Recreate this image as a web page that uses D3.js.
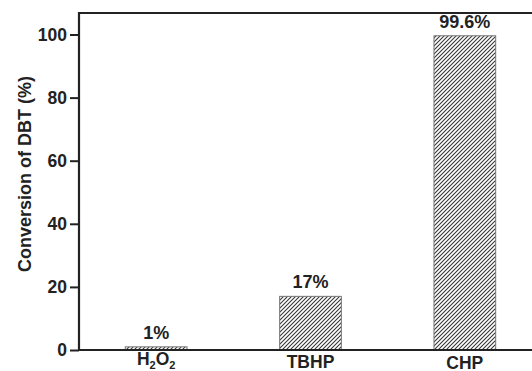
<!DOCTYPE html>
<html>
<head>
<meta charset="utf-8">
<script src="https://cdn.jsdelivr.net/npm/d3@7"></script>
<style>
  html, body { margin: 0; padding: 0; background: #fff; }
  svg { display: block; font-family: "Liberation Sans", Arial, sans-serif; }
</style>
</head>
<body>
<svg id="chart" width="532" height="371"></svg>
<script>
const categories = ["H2O2", "TBHP", "CHP"];
const conversion = [1, 17, 99.6];
const valueLabels = ["1%", "17%", "99.6%"];
const yTicks = [0, 20, 40, 60, 80, 100];
const yTitle = "Conversion of DBT (%)";

const svg = d3.select("#chart");
const margin = { left: 79, top: 13, bottom: 350, right: 542 };

const x = d3.scaleBand().domain(categories)
  .range([margin.left, margin.right]).paddingInner(0.6).paddingOuter(0.3);
const y = d3.scaleLinear().domain([0, 100]).range([350, 34.5]);

// hatch pattern
const defs = svg.append("defs");
const pat = defs.append("pattern").attr("id", "hatch")
  .attr("patternUnits", "userSpaceOnUse").attr("width", 4).attr("height", 4);
pat.append("rect").attr("width", 4).attr("height", 4).attr("fill", "#fff");
pat.append("path").attr("d", "M-1,1 L1,-1 M0,4 L4,0 M3,5 L5,3")
  .attr("stroke", "#333").attr("stroke-width", 1.05);

// bars
svg.selectAll("rect.bar").data(categories).enter().append("rect")
  .attr("class", "bar")
  .attr("x", d => x(d))
  .attr("y", (d, i) => y(conversion[i]))
  .attr("width", x.bandwidth())
  .attr("height", (d, i) => y(0) - y(conversion[i]))
  .attr("fill", "url(#hatch)")
  .attr("stroke", "#777").attr("stroke-width", 1);

// value labels
svg.selectAll("text.val").data(categories).enter().append("text")
  .attr("class", "val")
  .attr("x", d => x(d) + x.bandwidth() / 2)
  .attr("y", (d, i) => y(conversion[i]) - 8)
  .attr("text-anchor", "middle")
  .attr("font-size", 18).attr("font-weight", "bold").attr("fill", "#222")
  .text((d, i) => valueLabels[i]);

// frame (top and x-axis lines)
svg.append("line").attr("x1", margin.left).attr("x2", 532)
  .attr("y1", margin.top).attr("y2", margin.top)
  .attr("stroke", "#222").attr("stroke-width", 2);
svg.append("line").attr("x1", margin.left - 1).attr("x2", 532)
  .attr("y1", y(0)).attr("y2", y(0))
  .attr("stroke", "#222").attr("stroke-width", 2.2);

// y axis
const yAxis = svg.append("g").attr("transform", `translate(${margin.left},0)`)
  .call(d3.axisLeft(y).tickValues(yTicks).tickSize(9).tickPadding(3).tickSizeOuter(0));
yAxis.select(".domain").remove();
yAxis.append("line").attr("x1", 0).attr("x2", 0)
  .attr("y1", margin.top - 1).attr("y2", y(0) + 1)
  .attr("stroke", "#222").attr("stroke-width", 2.2);
yAxis.selectAll(".tick line").attr("stroke", "#222").attr("stroke-width", 2);
yAxis.selectAll(".tick text")
  .attr("font-size", 17.5).attr("font-weight", "bold").attr("fill", "#222")
  .attr("font-family", "Liberation Sans, Arial, sans-serif");

// x labels
const xBaseline = { "H2O2": 365, "TBHP": 368, "CHP": 368.5 };
const xl = svg.selectAll("text.xl").data(categories).enter().append("text")
  .attr("class", "xl")
  .attr("x", d => x(d) + x.bandwidth() / 2)
  .attr("y", d => xBaseline[d])
  .attr("text-anchor", "middle")
  .attr("font-size", 17.5).attr("font-weight", "bold").attr("fill", "#222");
xl.each(function(d) {
  const t = d3.select(this);
  const m = d.match(/^([A-Z])(\d)([A-Z])(\d)$/);
  if (m) {
    t.append("tspan").text(m[1]);
    t.append("tspan").attr("font-size", 11).attr("dy", 4).text(m[2]);
    t.append("tspan").attr("dy", -4).text(m[3]);
    t.append("tspan").attr("font-size", 11).attr("dy", 4).text(m[4]);
  } else {
    t.text(d);
  }
});

// y title
svg.append("text")
  .attr("transform", "translate(31,174) rotate(-90)")
  .attr("text-anchor", "middle")
  .attr("font-size", 18).attr("font-weight", "bold").attr("fill", "#222")
  .text(yTitle);
</script>
</body>
</html>
